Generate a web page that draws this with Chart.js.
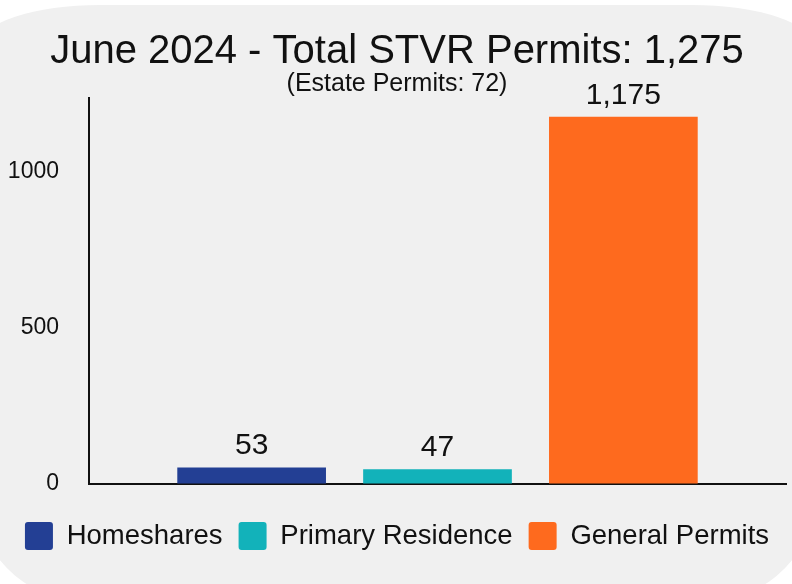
<!DOCTYPE html>
<html>
<head>
<meta charset="utf-8">
<script src="https://cdn.jsdelivr.net/npm/chart.js@4.4.1/dist/chart.umd.min.js"></script>
<style>
  html, body { margin: 0; padding: 0; background: #fff; overflow: hidden; }
  .panel {
    position: absolute; left: -20px; top: 5px; width: 832px; height: 600px;
    background: #f0f0f0;
    border-radius: 120px 120px 120px 120px / 40px 40px 100px 100px;
  }
  .wrap { position: absolute; left: 0; top: 0; width: 792px; height: 584px; }
</style>
</head>
<body>
<div class="panel"></div>
<div class="wrap"><canvas id="chart"></canvas></div>
<script>
const categories = [''];
const seriesNames = ['Homeshares', 'Primary Residence', 'General Permits'];
const homeshares = [53];
const primaryResidence = [47];
const generalPermits = [1175];
const yTicks = [0, 500, 1000];
const seriesColors = ['#233f94', '#12b2ba', '#fe6a1e'];

Chart.defaults.font.family = '"Liberation Sans", Arial, sans-serif';
Chart.defaults.color = '#111';

// draws the value above each bar
const valueLabels = {
  id: 'valueLabels',
  afterDatasetsDraw(chart) {
    const ctx = chart.ctx;
    ctx.save();
    ctx.font = '30px "Liberation Sans", Arial, sans-serif';
    ctx.fillStyle = '#111';
    ctx.textAlign = 'center';
    ctx.textBaseline = 'alphabetic';
    chart.data.datasets.forEach((ds, i) => {
      chart.getDatasetMeta(i).data.forEach((bar, j) => {
        ctx.fillText(ds.data[j].toLocaleString('en-US'), bar.x, bar.y - 13);
      });
    });
    ctx.restore();
  }
};

const seriesData = [homeshares, primaryResidence, generalPermits];

new Chart(document.getElementById('chart'), {
  type: 'bar',
  data: {
    labels: categories,
    datasets: seriesNames.map((name, i) => ({
      label: name,
      data: seriesData[i],
      backgroundColor: seriesColors[i],
      borderColor: seriesColors[i],
      borderWidth: 0,
      barPercentage: 0.8,
      categoryPercentage: 0.8,
    })),
  },
  options: {
    responsive: true,
    maintainAspectRatio: false,
    animation: false,
    layout: { padding: { left: 8, right: 6, top: 0, bottom: 24 } },
    plugins: {
      title: {
        display: true,
        text: 'June 2024 - Total STVR Permits: 1,275',
        font: { size: 40, weight: 'normal', lineHeight: 1 },
        color: '#111',
        padding: { top: 32, bottom: 0 },
      },
      subtitle: {
        display: true,
        text: '(Estate Permits: 72)',
        font: { size: 25, lineHeight: 1 },
        color: '#111',
        padding: { top: 0, bottom: 1 },
      },
      legend: {
        position: 'bottom',
        labels: {
          boxWidth: 28,
          boxHeight: 28,
          padding: 16,
          useBorderRadius: true,
          borderRadius: 3,
          font: { size: 27.5 },
          color: '#111',
        },
      },
      tooltip: { enabled: false },
    },
    scales: {
      x: {
        ticks: { display: false },
        grid: { drawOnChartArea: false, drawTicks: false },
        border: { color: '#111', width: 2 },
        afterFit: (s) => { s.height = 22; },
      },
      y: {
        min: 0,
        max: 1235,
        afterBuildTicks: (s) => { s.ticks = yTicks.map(v => ({ value: v })); },
        afterFit: (s) => { s.width = 81; },
        ticks: { font: { size: 23 }, color: '#111', padding: 30, callback: v => String(v) },
        grid: { drawOnChartArea: false, drawTicks: false },
        border: { color: '#111', width: 2 },
      },
    },
  },
  plugins: [valueLabels],
});
</script>
</body>
</html>
